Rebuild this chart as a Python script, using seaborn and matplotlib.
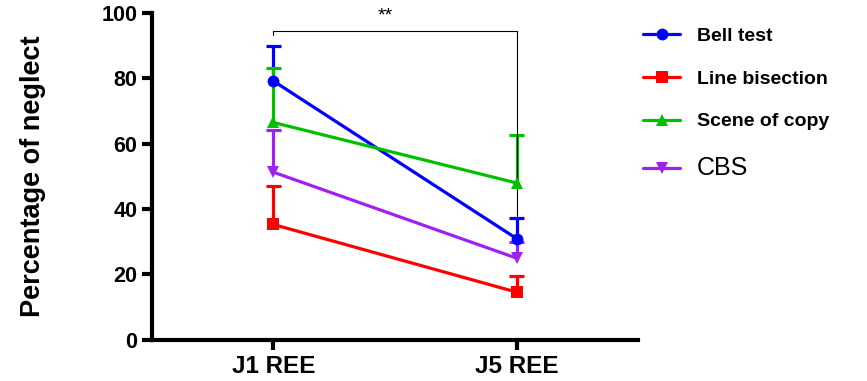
import numpy as np
import pandas as pd
import matplotlib
matplotlib.use("Agg")
import matplotlib.pyplot as plt
import seaborn as sns

days = ["J1 REE", "J5 REE"]
tests = ["Bell test", "Line bisection", "Scene of copy", "CBS"]
bell = [79.2, 31.0]
bell_err = [10.8, 6.2]
line_bis = [35.3, 14.6]
line_bis_err = [11.7, 4.8]
scene = [66.5, 48.0]
scene_err = [16.7, 14.7]
cbs = [51.3, 25.0]
cbs_err = [12.8, 5.0]

means = [bell, line_bis, scene, cbs]
errs = [bell_err, line_bis_err, scene_err, cbs_err]
colors = ["#0000FF", "#FF0000", "#00C000", "#A020F0"]
markers = ["o", "s", "^", "v"]

rows = []
for t, m in zip(tests, means):
    for d, v in zip(days, m):
        rows.append({"day": d, "test": t, "value": v})
df = pd.DataFrame(rows)
df["x"] = df["day"].map({d: i for i, d in enumerate(days)})

sns.set_style("ticks", {"axes.edgecolor": "black", "text.color": "black",
                        "axes.labelcolor": "black", "xtick.color": "black",
                        "ytick.color": "black"})
plt.rcParams["font.family"] = ["Liberation Sans", "DejaVu Sans"]

fig = plt.figure(figsize=(8.67, 3.81), dpi=100)
ax = fig.add_axes([0.175, 0.108, 0.561, 0.858])

# upper-only error bars with caps
cap = 0.032
for m, e, c in zip(means, errs, colors):
    xs = np.arange(len(days))
    tops = np.array(m) + np.array(e)
    ax.vlines(xs, m, tops, color=c, lw=2.3, zorder=2)
    ax.hlines(tops, xs - cap, xs + cap, color=c, lw=2.3, zorder=2)

sns.lineplot(data=df, x="x", y="value", hue="test", style="test",
             hue_order=tests, style_order=tests, palette=colors,
             markers=dict(zip(tests, markers)), dashes=False,
             linewidth=2.3, markersize=8.5, markeredgewidth=0, ax=ax, zorder=3)

# significance bracket
ax.plot([0, 0, 1, 1], [93.2, 94.5, 94.5, 37.8], color="black", lw=0.8,
        clip_on=False)
ax.text(0.46, 99.2, "**", ha="center", va="center", fontsize=14,
        clip_on=False)

ax.set_xlim(-0.5, 1.5)
ax.set_ylim(0, 100)
ax.set_xticks(range(len(days)))
ax.set_xticklabels(days, fontsize=17.5, fontweight="bold")
ax.set_yticks(range(0, 101, 20))
ax.set_yticklabels([str(v) for v in range(0, 101, 20)], fontsize=15.5,
                   fontweight="bold")
ax.set_xlabel("")
ax.set_ylabel("Percentage of neglect", fontsize=19.5, fontweight="bold",
              labelpad=40)
sns.despine(ax=ax)
for s in ["left", "bottom"]:
    ax.spines[s].set_linewidth(3)
ax.tick_params(width=3, length=7)
ax.tick_params(axis="x", pad=4)

handles, labels = ax.get_legend_handles_labels()
ax.legend_.remove()
leg = fig.legend(handles, labels, loc="upper left",
                 bbox_to_anchor=(0.722, 0.975), frameon=False,
                 fontsize=14, labelspacing=1.3, handlelength=1.9,
                 handletextpad=0.85)
for txt in leg.get_texts()[:3]:
    txt.set_fontweight("bold")
leg.get_texts()[3].set_fontsize(18)

fig.savefig("out.png", dpi=100)
